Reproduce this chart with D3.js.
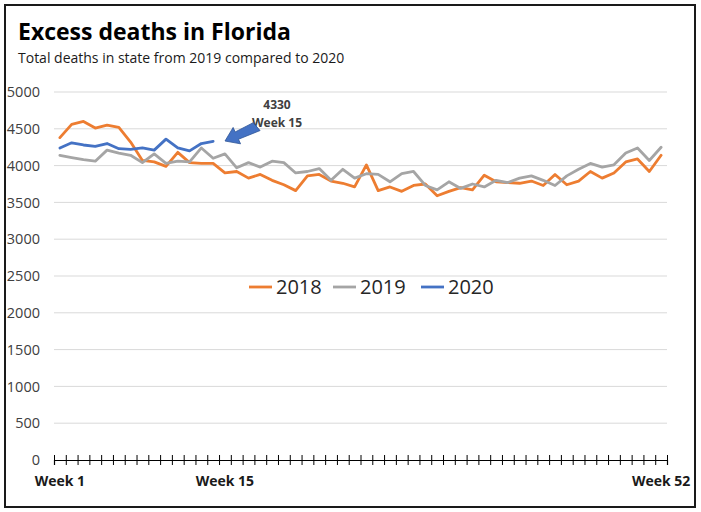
<!DOCTYPE html>
<html>
<head>
<meta charset="utf-8">
<script src="https://cdn.jsdelivr.net/npm/d3@7"></script>
<style>
  html, body { margin: 0; padding: 0; background: #ffffff; }
  svg { display: block; font-family: "Open Sans", "Noto Sans", sans-serif; }
</style>
</head>
<body>
<svg id="chart" width="701" height="512"></svg>
<script>
// ---- data ----
const weeks = d3.range(1, 53);
const deaths2018 = [4380, 4560, 4600, 4510, 4550, 4520, 4320, 4070, 4050, 3990,
  4180, 4040, 4030, 4030, 3900, 3920, 3830, 3880, 3800, 3740,
  3660, 3860, 3880, 3790, 3760, 3710, 4010, 3660, 3710, 3650,
  3730, 3750, 3590, 3650, 3700, 3670, 3870, 3780, 3770, 3760,
  3790, 3730, 3880, 3740, 3790, 3920, 3830, 3900, 4050, 4090,
  3920, 4140];
const deaths2019 = [4140, 4110, 4080, 4060, 4210, 4170, 4140, 4040, 4160, 4030,
  4060, 4050, 4240, 4100, 4160, 3970, 4040, 3980, 4060, 4040,
  3900, 3920, 3960, 3800, 3950, 3830, 3890, 3880, 3780, 3890,
  3920, 3730, 3670, 3780, 3690, 3750, 3710, 3800, 3770, 3830,
  3860, 3800, 3730, 3860, 3950, 4030, 3980, 4010, 4170, 4240,
  4070, 4250];
const deaths2020 = [4240, 4310, 4280, 4260, 4300, 4230, 4220, 4240, 4210, 4360,
  4240, 4200, 4300, 4330];
const seriesNames = ["2018", "2019", "2020"];
const seriesColors = ["#ED7D31", "#A5A5A5", "#4472C4"];
const yTicks = [0, 500, 1000, 1500, 2000, 2500, 3000, 3500, 4000, 4500, 5000];
const xLabelWeeks = [1, 15, 52];
const annotationLines = ["4330", "Week 15"];

// ---- layout ----
const svg = d3.select("#chart");
const plotLeft = 54, plotRight = 667, plotTop = 92, plotBottom = 460;

// frame
svg.append("rect").attr("x", 5).attr("y", 5).attr("width", 690).attr("height", 502)
  .attr("fill", "#fff").attr("stroke", "#1a1a1a").attr("stroke-width", 2);

// title
svg.append("text").attr("x", 18).attr("y", 40)
  .attr("font-size", 23).attr("font-weight", 700).attr("fill", "#000")
  .text("Excess deaths in Florida");
svg.append("text").attr("x", 18).attr("y", 63)
  .attr("font-size", 14).attr("fill", "#1a1a1a")
  .text("Total deaths in state from 2019 compared to 2020");

const x = d3.scaleBand().domain(weeks).range([plotLeft, plotRight]).padding(0);
const xc = d => x(d) + x.bandwidth() / 2;
const y = d3.scaleLinear().domain([0, 5000]).range([plotBottom, plotTop]);

// gridlines
svg.append("g").selectAll("line").data(yTicks.filter(t => t > 0)).join("line")
  .attr("x1", plotLeft).attr("x2", plotRight)
  .attr("y1", d => y(d)).attr("y2", d => y(d))
  .attr("stroke", "#d9d9d9").attr("stroke-width", 1);

// y axis labels
const yAxis = d3.axisLeft(y).tickValues(yTicks).tickSize(0).tickPadding(0).tickFormat(d3.format("d"));
const gy = svg.append("g").attr("transform", `translate(40,0)`).call(yAxis);
gy.select(".domain").remove();
gy.selectAll("text").attr("font-size", 14.5).attr("fill", "#404040")
  .attr("font-family", "'Open Sans', sans-serif");

// x axis with crossing ticks at band boundaries
const xb = d3.scaleLinear().domain([0, 52]).range([plotLeft, plotRight]);
const gx = svg.append("g").attr("transform", `translate(0,${plotBottom})`)
  .call(d3.axisBottom(xb).tickValues(d3.range(53)).tickSize(5).tickFormat(""));
gx.select(".domain").attr("stroke", "#000").attr("stroke-width", 1.2);
gx.selectAll(".tick line").attr("y1", -5).attr("y2", 5).attr("stroke", "#000");

// x labels
svg.append("g").selectAll("text").data(xLabelWeeks).join("text")
  .attr("x", d => xc(d)).attr("y", 486).attr("text-anchor", "middle")
  .attr("font-size", 14).attr("font-weight", 700).attr("fill", "#1a1a1a")
  .text(d => "Week " + d);

// lines
const line = d3.line().x((d, i) => xc(weeks[i])).y(d => y(d));
[deaths2018, deaths2019, deaths2020].forEach((s, k) => {
  svg.append("path").datum(s).attr("d", line).attr("fill", "none")
    .attr("stroke", seriesColors[k]).attr("stroke-width", 2.8)
    .attr("stroke-linejoin", "round").attr("stroke-linecap", "round");
});

// legend
const legendX = [249, 333, 421];
const lg = svg.append("g");
seriesNames.forEach((n, k) => {
  lg.append("line").attr("x1", legendX[k]).attr("x2", legendX[k] + 23)
    .attr("y1", 287).attr("y2", 287).attr("stroke", seriesColors[k]).attr("stroke-width", 2.8);
  lg.append("text").attr("x", legendX[k] + 27).attr("y", 294)
    .attr("font-size", 20).attr("fill", "#262626").text(n);
});

// annotation
const ann = svg.append("g");
annotationLines.forEach((t, i) => {
  ann.append("text").attr("x", 277).attr("y", 109 + i * 18).attr("text-anchor", "middle")
    .attr("font-size", 12).attr("font-weight", 700).attr("fill", "#404040").text(t);
});
// block arrow pointing to last 2020 point
(function () {
  const tip = [225, 141], tail = [258, 126];
  const dx = tail[0] - tip[0], dy = tail[1] - tip[1];
  const L = Math.hypot(dx, dy), ux = dx / L, uy = dy / L, px = -uy, py = ux;
  const head = 13, hw = 9, sw = 4;
  const P = (a, b) => [tip[0] + ux * a + px * b, tip[1] + uy * a + py * b];
  const pts = [P(0, 0), P(head, hw), P(head, sw), P(L, sw + 1), P(L - 3, -sw - 1), P(head, -sw), P(head, -hw)];
  ann.append("polygon").attr("points", pts.map(p => p.join(",")).join(" "))
    .attr("fill", "#4472C4").attr("stroke", "#2F5597").attr("stroke-width", 0.8);
})();
</script>
</body>
</html>
